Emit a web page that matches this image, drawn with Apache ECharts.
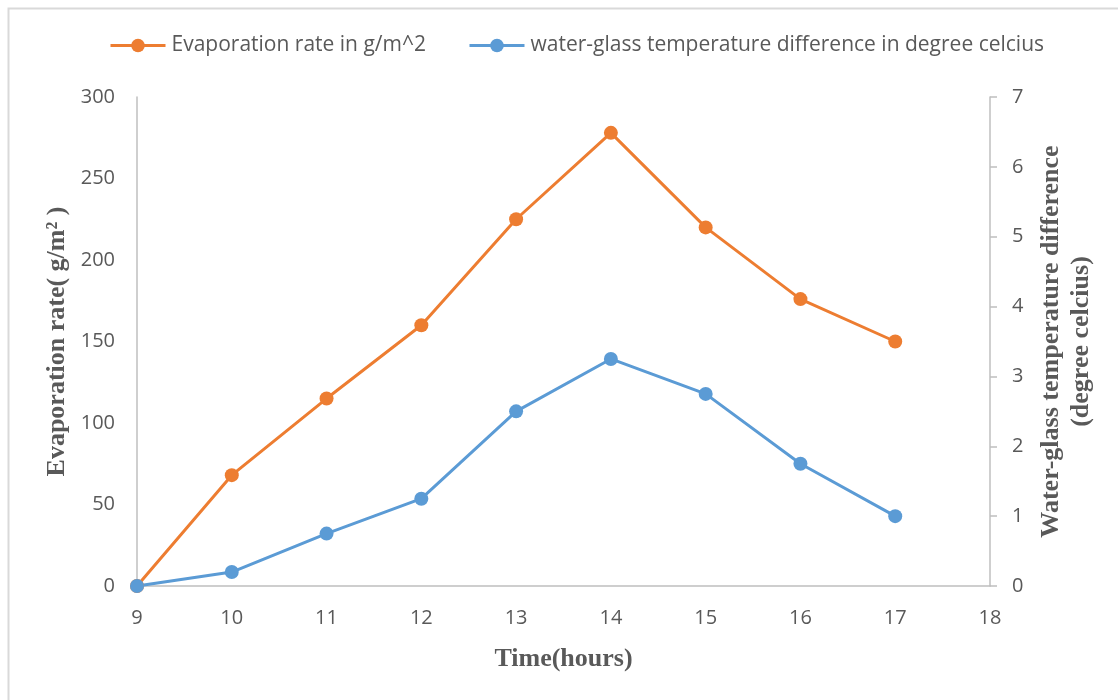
<!DOCTYPE html>
<html><head><meta charset="utf-8">
<script src="https://cdn.jsdelivr.net/npm/echarts@6/dist/echarts.min.js"></script>
<style>html,body{margin:0;padding:0;background:#fff}#c{width:1118px;height:700px}</style>
</head><body><div id="c"></div>
<script>
const hours = [9, 10, 11, 12, 13, 14, 15, 16, 17];
const evaporation = [0, 68, 115, 160, 225, 278, 220, 176, 150];
const tempDiff = [0, 0.2, 0.75, 1.25, 2.5, 3.25, 2.75, 1.75, 1.0];
const seriesNames = ['Evaporation rate in g/m^2', 'water-glass temperature difference in degree celcius'];

const labelFont = "'Open Sans', sans-serif";
const titleFont = "'Liberation Serif', 'DejaVu Serif', serif";
const gray = '#595959';

const chart = echarts.init(document.getElementById('c'));
chart.setOption({
  animation: false,
  graphic: [{type:'rect', left:6, top:6, shape:{width:1300, height:900}, style:{fill:'none', stroke:'#d9d9d9', lineWidth:2}, silent:true}],
  legend: {
    top: 30, left: 104, itemGap: 42, itemWidth: 55, itemHeight: 17,
    lineStyle: {width: 3},
    textStyle: {fontFamily: labelFont, fontSize: 21, color: gray, padding: [0, 0, 0, 1]},
    data: seriesNames
  },
  grid: {left: 137, right: 128, top: 97, bottom: 114},
  xAxis: {
    type: 'value', min: 9, max: 18, interval: 1,
    name: 'Time(hours)', nameLocation: 'middle', nameGap: 60,
    nameTextStyle: {fontFamily: titleFont, fontWeight: 'bold', fontSize: 26, color: gray},
    axisLine: {lineStyle: {color: '#bfbfbf', width: 1.5}},
    axisTick: {show: false},
    splitLine: {show: false},
    axisLabel: {fontFamily: labelFont, fontSize: 20, color: gray, margin: 22}
  },
  yAxis: [{
    type: 'value', min: 0, max: 300, interval: 50,
    name: 'Evaporation rate( g/m² )', nameLocation: 'middle', nameGap: 66,
    nameTextStyle: {fontFamily: titleFont, fontWeight: 'bold', fontSize: 26, color: gray},
    axisLine: {show: true, lineStyle: {color: '#bfbfbf', width: 1.5}},
    axisTick: {show: false},
    splitLine: {show: false},
    axisLabel: {fontFamily: labelFont, fontSize: 20, color: gray, margin: 22}
  }, {
    type: 'value', min: 0, max: 7, interval: 1, position: 'right',
    name: 'Water-glass temperature difference\n(degree celcius)', nameLocation: 'middle', nameGap: 46,
    nameRotate: 90,
    nameTextStyle: {fontFamily: titleFont, fontWeight: 'bold', fontSize: 26, color: gray, lineHeight: 30},
    axisLine: {show: true, lineStyle: {color: '#bfbfbf', width: 1.5}},
    axisTick: {show: true, length: 7, lineStyle: {color: '#bfbfbf', width: 1.5}},
    splitLine: {show: false},
    axisLabel: {fontFamily: labelFont, fontSize: 20, color: gray, margin: 22}
  }],
  series: [{
    name: seriesNames[0], type: 'line', yAxisIndex: 0,
    data: hours.map((h, i) => [h, evaporation[i]]),
    symbol: 'circle', symbolSize: 14,
    itemStyle: {color: '#ED7D31'}, lineStyle: {color: '#ED7D31', width: 3}
  }, {
    name: seriesNames[1], type: 'line', yAxisIndex: 1,
    data: hours.map((h, i) => [h, tempDiff[i]]),
    symbol: 'circle', symbolSize: 14,
    itemStyle: {color: '#5B9BD5'}, lineStyle: {color: '#5B9BD5', width: 3}
  }]
});
</script></body></html>
